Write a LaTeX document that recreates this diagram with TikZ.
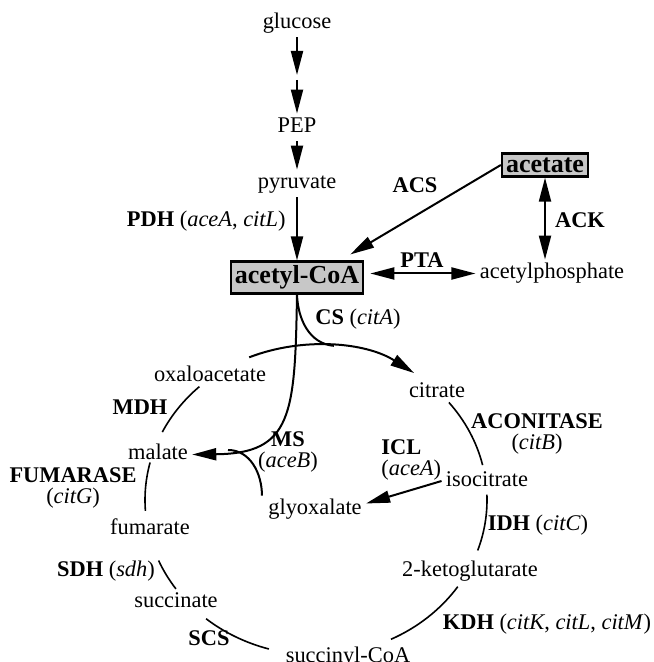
\documentclass[tikz,border=0pt]{standalone}
\usepackage{fontspec}
\setmainfont{Liberation Serif}
\usetikzlibrary{arrows.meta,calc}

\begin{document}
\begin{tikzpicture}[x=0.5pt,y=0.5pt,font=\fontsize{11.2}{13.4}\selectfont,
		met/.style={inner sep=2pt,text height=7.5pt,text depth=2pt},
		enz/.style={inner sep=1pt,align=center},
		pool/.style={draw,line width=1.2pt,fill=black!22,inner sep=2pt,font=\bfseries\fontsize{13}{15}\selectfont},
		flux/.style={line width=1pt},
		arr/.style={flux,-{Triangle[length=12pt,width=6pt]}},
		darr/.style={flux,{Triangle[length=12pt,width=6pt]}-{Triangle[length=12pt,width=6pt]}},
		tca/.style={line width=0.8pt}]
		\useasboundingbox (0,0) rectangle (653,662);
		% glycolysis
		\node[met] (glucose) at (297,638.5) {glucose};
		\coordinate (gmid) at (297,587);
		\node[met] (pep) at (297,534.5) {PEP};
		\node[met] (pyruvate) at (297,478.5) {pyruvate};
		\node[pool] (acoa) at (297,384.5) {acetyl-CoA};
		\draw[arr] (glucose) -- (gmid);
		\draw[arr,shorten <=2.5pt] (gmid) -- (pep);
		\draw[arr] (pep) -- (pyruvate);
		\draw[arr] (pyruvate) -- (acoa);
		\node[enz,anchor=east] (pdh) at (288,441) {\textbf{PDH} (\textit{aceA}, \textit{citL})};
		% acetate side
		\node[pool] (acetate) at (545,497) {acetate};
		\node[met] (acph) at (552,388.5) {acetylphosphate};
		\draw[arr] (acetate.west) -- ([xshift=-7pt,yshift=3pt]acoa.north east);
		\draw[darr] (acetate.south) -- (acetate.south |- acph.north);
		\draw[darr,shorten <=3pt] (acoa.east |- acph.west) -- (acph.west);
		\node[enz] (acs) at (415,477) {\textbf{ACS}};
		\node[enz] (ack) at (580,442) {\textbf{ACK}};
		\node[enz] (pta) at (422,402) {\textbf{PTA}};
		% TCA cycle and glyoxylate shunt
		\coordinate (cc) at (316,162);
		\node[met] (oxalo) at (210,285.5) {oxaloacetate};
		\node[met] (citrate) at (437,269.5) {citrate};
		\node[met] (isocit) at (487,181) {isocitrate};
		\node[met] (akg) at (470,90.5) {2-ketoglutarate};
		\node[met] (succoa) at (348,5) {succinyl-CoA};
		\node[met] (succ) at (176,59.5) {succinate};
		\node[met] (fum) at (150,132.5) {fumarate};
		\node[met] (malate) at (158,207.5) {malate};
		\node[met] (glyox) at (315,152.5) {glyoxalate};
		\coordinate (csjoin) at ($(cc)+(84:171 and 155)$);
		\coordinate (msjoin) at (228,212);
		\draw[arr] (cc) ++(113:171 and 155) arc[start angle=113,end angle=55,x radius=171,y radius=155];
		\draw[flux] (acoa.south) to[out=-88,in=175] (csjoin);
		\draw[arr] (acoa.south) .. controls +(-2,-120) and +(100,1) .. (malate.east);
		\draw[flux] ([xshift=-1pt]glyox.north west) to[out=90,in=0] (msjoin);
		\draw[arr] (isocit.west) -- ([yshift=3pt]glyox.east);
		\draw[tca] (cc) ++(39:171 and 155) arc[start angle=39,end angle=13,x radius=171,y radius=155];
		\draw[tca] (cc) ++(-19:171 and 155) arc[start angle=-19,end angle=2,x radius=171,y radius=155];
		\draw[tca] (cc) ++(296:171 and 155) arc[start angle=296,end angle=326,x radius=171,y radius=155];
		\draw[tca] (cc) ++(230:171 and 155) arc[start angle=230,end angle=254,x radius=171,y radius=155];
		\draw[tca] (cc) ++(203:171 and 155) arc[start angle=203,end angle=215,x radius=171,y radius=155];
		\draw[tca] (cc) ++(166:171 and 155) arc[start angle=166,end angle=184,x radius=171,y radius=155];
		\draw[tca] (cc) ++(133:171 and 155) arc[start angle=133,end angle=154,x radius=171,y radius=155];
		% enzyme labels
		\node[enz] (cs) at (358,343) {\textbf{CS} (\textit{citA})};
		\node[enz] (aconitase) at (537,228) {\textbf{ACONITASE}\\[-2.5pt](\textit{citB})};
		\node[enz,align=left,anchor=west] (icl) at (379,202) {\textbf{ICL}\\[-2.5pt](\textit{aceA})};
		\node[enz] (idh) at (538,137) {\textbf{IDH} (\textit{citC})};
		\node[enz] (kdh) at (547,38) {\textbf{KDH} (\textit{citK}, \textit{citL}, \textit{citM})};
		\node[enz] (scs) at (209,24) {\textbf{SCS}};
		\node[enz] (sdh) at (106,91) {\textbf{SDH} (\textit{sdh})};
		\node[enz] (fumarase) at (73,174) {\textbf{FUMARASE}\\[-2.5pt](\textit{citG})};
		\node[enz] (mdh) at (140,255) {\textbf{MDH}};
		\node[enz] (ms) at (288,210) {\textbf{MS}\\[-2.5pt](\textit{aceB})};
	\end{tikzpicture}
\end{document}
